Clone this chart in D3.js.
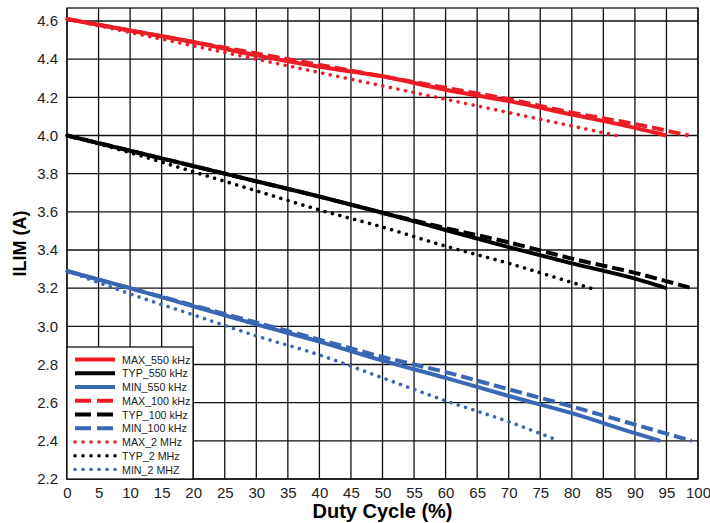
<!DOCTYPE html>
<html>
<head>
<meta charset="utf-8">
<script src="https://cdn.jsdelivr.net/npm/d3@7"></script>
<style>
	body { margin: 0; background: #fff; }
	svg { display: block; }
	.tick-label { font-family: "Liberation Sans Narrow", "Arial Narrow", "Liberation Sans", sans-serif; font-size: 15px; fill: #222; }
	.axis-title { font-family: "Liberation Sans", Arial, sans-serif; font-weight: bold; fill: #000; }
	.legend-label { font-family: "Liberation Sans", Arial, sans-serif; font-size: 10.7px; fill: #222; }
</style>
</head>
<body>
<svg id="chart" width="710" height="523"></svg>
<script>
const xTicks = d3.range(0, 101, 5);
const yTicks = [2.2, 2.4, 2.6, 2.8, 3.0, 3.2, 3.4, 3.6, 3.8, 4.0, 4.2, 4.4, 4.6];

const dutyMax550 = [0, 10, 20, 30, 40, 50, 60, 70, 80, 90, 95];
const max550 = [4.61, 4.55, 4.49, 4.42, 4.36, 4.31, 4.24, 4.18, 4.11, 4.04, 4.00];
const dutyMax100 = [0, 10, 20, 30, 40, 50, 60, 70, 80, 90, 98.5];
const max100 = [4.61, 4.55, 4.49, 4.43, 4.37, 4.31, 4.25, 4.19, 4.12, 4.06, 4.00];
const dutyMax2 = [0, 10, 20, 30, 40, 50, 60, 70, 80, 87];
const max2 = [4.61, 4.54, 4.47, 4.40, 4.33, 4.26, 4.19, 4.12, 4.05, 4.00];

const dutyTyp550 = [0, 10, 20, 30, 40, 50, 60, 70, 80, 90, 95];
const typ550 = [4.00, 3.92, 3.84, 3.76, 3.68, 3.595, 3.505, 3.415, 3.33, 3.25, 3.20];
const dutyTyp100 = [0, 10, 20, 30, 40, 50, 60, 70, 80, 90, 99];
const typ100 = [4.00, 3.92, 3.84, 3.76, 3.68, 3.595, 3.515, 3.44, 3.355, 3.28, 3.20];
const dutyTyp2 = [0, 10, 20, 30, 40, 50, 60, 70, 80, 83];
const typ2 = [4.00, 3.91, 3.81, 3.71, 3.61, 3.52, 3.42, 3.33, 3.23, 3.20];

const dutyMin550 = [0, 10, 20, 30, 40, 50, 60, 70, 80, 90, 94];
const min550 = [3.29, 3.20, 3.105, 3.01, 2.92, 2.82, 2.73, 2.635, 2.545, 2.44, 2.40];
const dutyMin100 = [0, 10, 20, 30, 40, 50, 60, 70, 80, 90, 99];
const min100 = [3.29, 3.20, 3.11, 3.02, 2.93, 2.84, 2.76, 2.67, 2.58, 2.485, 2.40];
const dutyMin2 = [0, 10, 20, 30, 40, 50, 60, 70, 78];
const min2 = [3.29, 3.17, 3.06, 2.95, 2.85, 2.73, 2.61, 2.50, 2.40];

const seriesNames = ["MAX_550 kHz", "TYP_550 kHz", "MIN_550 kHz", "MAX_100 kHz", "TYP_100 kHz", "MIN_100 kHz", "MAX_2 MHz", "TYP_2 MHz", "MIN_2 MHZ"];

const red = "#ed1c24", black = "#000", blue = "#3a66b4";
const styles = {
	solid: { dash: null, width: 4, cap: "butt" },
	dashed: { dash: "12,5", width: 4, cap: "butt" },
	dotted: { dot: 7.7, width: 3.6, cap: "round" }
};

const series = [
	{ name: seriesNames[0], x: dutyMax550, y: max550, color: red, style: "solid" },
	{ name: seriesNames[1], x: dutyTyp550, y: typ550, color: black, style: "solid" },
	{ name: seriesNames[2], x: dutyMin550, y: min550, color: blue, style: "solid" },
	{ name: seriesNames[3], x: dutyMax100, y: max100, color: red, style: "dashed" },
	{ name: seriesNames[4], x: dutyTyp100, y: typ100, color: black, style: "dashed" },
	{ name: seriesNames[5], x: dutyMin100, y: min100, color: blue, style: "dashed" },
	{ name: seriesNames[6], x: dutyMax2, y: max2, color: red, style: "dotted" },
	{ name: seriesNames[7], x: dutyTyp2, y: typ2, color: black, style: "dotted" },
	{ name: seriesNames[8], x: dutyMin2, y: min2, color: blue, style: "dotted" }
];

// spread the dots so one lands on each end of the path
const fitDots = (node, step) => {
	let len = node.getTotalLength();
	let n = Math.max(1, Math.round(len / step));
	return `0.01,${(len / n - 0.01).toFixed(3)}`;
}

const drawChart = (svg_name) => {
	let chart = d3.select(svg_name);
	let margin = { left: 67, right: 12, top: 8, bottom: 44 };
	let chart_width = +chart.attr("width");
	let chart_height = +chart.attr("height");

	let x = d3.scaleLinear()
		.domain([0, 100])
		.range([margin.left, chart_width - margin.right]);
	let y = d3.scaleLinear()
		.domain([2.2, 4.6])
		.range([chart_height - margin.bottom, 21]);

	addGrid(chart, x, y, margin);
	addLines(chart, x, y);
	addAxes(chart, x, y, margin, chart_width, chart_height);
	addLegend(chart, x, y);
}

const addGrid = (chart, x, y, margin) => {
	let bottom = y(2.2);
	chart.append("g")
		.selectAll("line")
		.data(xTicks)
		.join("line")
		.attr("x1", (d) => x(d))
		.attr("x2", (d) => x(d))
		.attr("y1", margin.top)
		.attr("y2", bottom)
		.style("stroke", "#111")
		.style("stroke-width", 1.3);
	chart.append("g")
		.selectAll("line")
		.data(yTicks)
		.join("line")
		.attr("x1", x(0))
		.attr("x2", x(100))
		.attr("y1", (d) => y(d))
		.attr("y2", (d) => y(d))
		.style("stroke", "#111")
		.style("stroke-width", 1.3);
	chart.append("rect")
		.attr("x", x(0))
		.attr("y", margin.top)
		.attr("width", x(100) - x(0))
		.attr("height", bottom - margin.top)
		.style("fill", "none")
		.style("stroke", "#111")
		.style("stroke-width", 1.3);
}

const addLines = (chart, x, y) => {
	let valueLine = d3.line()
		.x((d) => x(d[0]))
		.y((d) => y(d[1]))
		.curve(d3.curveMonotoneX);
	series.forEach((s) => {
		let st = styles[s.style];
		let path = chart.append("path")
			.datum(d3.zip(s.x, s.y))
			.attr("class", "line")
			.attr("d", valueLine)
			.style("fill", "none")
			.style("stroke", s.color)
			.style("stroke-width", st.width)
			.style("stroke-linecap", st.cap);
		if (st.dot) path.style("stroke-dasharray", fitDots(path.node(), st.dot));
		else path.style("stroke-dasharray", st.dash);
	});
}

const addAxes = (chart, x, y, margin, width, height) => {
	let x_axis = d3.axisBottom(x).tickValues(xTicks).tickSize(0).tickPadding(8).tickFormat(d3.format("d"));
	chart.append("g")
		.attr("transform", `translate(0,${y(2.2)})`)
		.call(x_axis)
		.call((g) => g.select(".domain").remove())
		.selectAll("text")
		.attr("class", "tick-label")
		.attr("font-family", null)
		.attr("font-size", null);

	let y_axis = d3.axisLeft(y).tickValues(yTicks).tickSize(0).tickPadding(9).tickFormat(d3.format(".1f"));
	chart.append("g")
		.attr("transform", `translate(${x(0)},0)`)
		.call(y_axis)
		.call((g) => g.select(".domain").remove())
		.selectAll("text")
		.attr("class", "tick-label")
		.attr("font-family", null)
		.attr("font-size", null);

	chart.append("text")
		.attr("class", "axis-title")
		.attr("transform", "rotate(-90)")
		.attr("x", -(y(2.2) + margin.top) / 2)
		.attr("y", 26)
		.style("font-size", "18px")
		.style("text-anchor", "middle")
		.text("ILIM (A)");

	chart.append("text")
		.attr("class", "axis-title")
		.attr("x", (x(0) + x(100)) / 2)
		.attr("y", height - 5)
		.style("font-size", "20px")
		.style("text-anchor", "middle")
		.text("Duty Cycle (%)");
}

const addLegend = (chart, x, y) => {
	let left = x(0), top = 347, right = 193, bottom = y(2.2);
	let legend = chart.append("g");
	legend.append("rect")
		.attr("x", left)
		.attr("y", top)
		.attr("width", right - left)
		.attr("height", bottom - top)
		.style("fill", "#fff")
		.style("stroke", "#111")
		.style("stroke-width", 1.3);

	let rows = legend.selectAll("g.row")
		.data(series)
		.join("g")
		.attr("class", "row")
		.attr("transform", (d, i) => `translate(${left},${top + 12.5 + i * 13.75})`);

	rows.append("line")
		.attr("x1", 8)
		.attr("x2", 48)
		.attr("y1", 0)
		.attr("y2", 0)
		.style("stroke", (d) => d.color)
		.style("stroke-width", (d) => styles[d.style].width)
		.style("stroke-linecap", (d) => styles[d.style].cap)
		.style("stroke-dasharray", (d) => d.style == "dashed" ? "16,6" : d.style == "dotted" ? "0.01,7.99" : null);

	rows.append("text")
		.attr("class", "legend-label")
		.attr("x", 55)
		.attr("y", 4)
		.text((d) => d.name);
}

drawChart("#chart");
</script>
</body>
</html>
